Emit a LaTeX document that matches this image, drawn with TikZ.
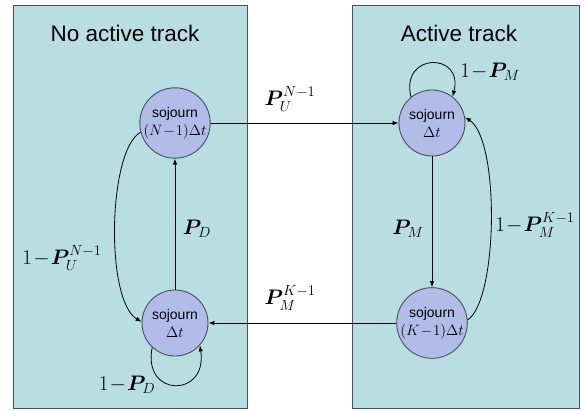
\RequirePackage{fix-cm}
\documentclass[tikz,border=0pt]{standalone}
\usepackage{amsmath}
\usepackage{bm}
\usepackage{fontspec}
\setsansfont{Liberation Sans}
\usetikzlibrary{arrows.meta}
\definecolor{panelc}{RGB}{185,222,226}
\definecolor{statec}{RGB}{178,188,232}
\definecolor{edgec}{RGB}{70,80,95}
\newcommand{\circmath}[1]{{\fontsize{15}{15}\selectfont$#1$}}
\tikzset{
  panel/.style={draw=edgec, line width=0.9pt, fill=panelc, rectangle, inner sep=0pt},
  statenode/.style={circle, draw=edgec, line width=0.9pt, fill=statec, minimum size=66pt, inner sep=0pt, align=center, font=\sffamily\fontsize{14}{18}\selectfont},
  arr/.style={-{Latex[length=6pt,width=4.5pt]}, line width=0.8pt, black},
  ttl/.style={font=\sffamily\fontsize{22.5}{22.5}\selectfont},
  lbl/.style={font=\fontsize{21}{21}\selectfont, inner sep=1pt}
}
\begin{document}
\begin{tikzpicture}[x=1pt,y=-1pt]
\useasboundingbox (0,0) rectangle (585,411);
\node[panel, minimum width=234pt, minimum height=403pt] (L) at (130.5,206.5) {};
\node[panel, minimum width=227pt, minimum height=403pt] (R) at (465.5,206.5) {};
\node[ttl] (tl) at (125,33) {No active track};
\node[ttl] (tr) at (459,33) {Active track};
\node[statenode] (a) at (175,123) {sojourn\\\circmath{(N\!-\!1)\Delta t}};
\node[statenode] (c) at (175,323) {sojourn\\\circmath{\Delta t}};
\node[statenode] (b) at (432,123) {sojourn\\\circmath{\Delta t}};
\node[statenode] (d) at (432,323) {sojourn\\\circmath{(K\!-\!1)\Delta t}};
% connectors
\draw[arr] (a.east) -- (b.west);
\draw[arr] (d.west) -- (c.west -| c.east);
\draw[arr] (c.north) -- (a.south);
\draw[arr] (b.south) -- (d.north);
\draw[arr] (a.195) .. controls (108,150) and (105,300) .. (c.178);
\draw[arr] (d.5) .. controls (498,300) and (500,140) .. (b.10);
\draw[arr] (c.227) .. controls (142,398) and (208,398) .. (c.318);
\draw[arr] (b.129) .. controls (400,52) and (464,52) .. (b.52);
% labels
\node[lbl] (l1) at (290,99) {$\bm{P}_U^{N-1}$};
\node[lbl] (l2) at (290,298) {$\bm{P}_M^{K-1}$};
\node[lbl] (l3) at (62,258) {$1\!-\!\bm{P}_U^{N-1}$};
\node[lbl] (l4) at (197,229) {$\bm{P}_D$};
\node[lbl] (l5) at (127,385) {$1\!-\!\bm{P}_D$};
\node[lbl] (l6) at (490,72) {$1\!-\!\bm{P}_M$};
\node[lbl] (l7) at (408,229) {$\bm{P}_M$};
\node[lbl] (l8) at (535,225) {$1\!-\!\bm{P}_M^{K-1}$};
\end{tikzpicture}
\end{document}
